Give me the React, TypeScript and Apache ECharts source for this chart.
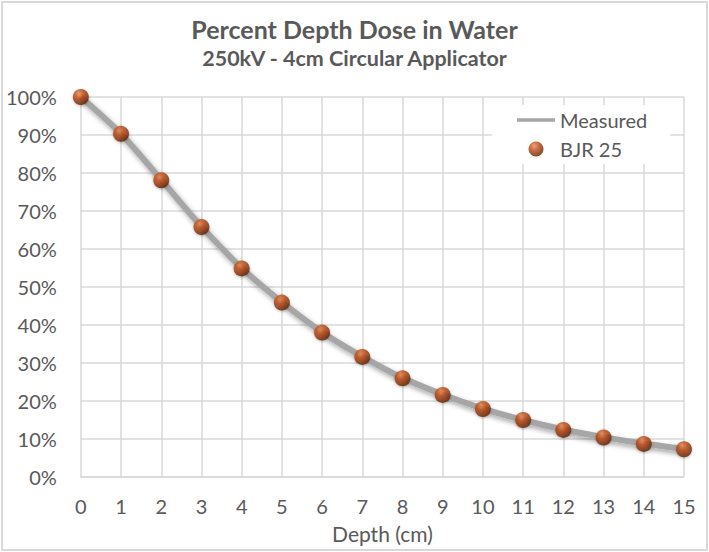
import { useEffect, useRef } from 'react';
import * as echarts from 'echarts';

const depths = [0, 1, 2, 3, 4, 5, 6, 7, 8, 9, 10, 11, 12, 13, 14, 15];
const measured = [100, 90.3, 78.2, 65.9, 55.0, 46.0, 38.1, 31.7, 26.1, 21.7, 18.0, 15.0, 12.5, 10.5, 8.8, 7.4];
const bjr25 = [100, 90.3, 78.1, 65.8, 54.9, 45.9, 38.0, 31.6, 26.0, 21.6, 17.9, 15.0, 12.4, 10.4, 8.7, 7.3];

const FONT = 'Lato, "Open Sans", sans-serif';
const TEXT = '#595959';
const GRID = '#d9d9d9';

export default function App() {
  const chartRef = useRef<HTMLDivElement>(null);

  useEffect(() => {
    document.body.style.margin = '0';
    if (!chartRef.current) return;
    const chart = echarts.init(chartRef.current, undefined, { renderer: 'svg' });

    // orange "glass ball" look of the Excel markers
    const sphere = new echarts.graphic.RadialGradient(0.38, 0.3, 0.72, [
      { offset: 0, color: '#eb8a55' },
      { offset: 0.4, color: '#bd4a12' },
      { offset: 1, color: '#5c1f03' },
    ]);

    const option: echarts.EChartsOption = {
      animation: false,
      backgroundColor: '#ffffff',
      textStyle: { fontFamily: FONT },
      title: [
        {
          text: 'Percent Depth Dose in Water',
          left: 'center',
          top: 8,
          textStyle: { color: TEXT, fontSize: 25, fontWeight: 'bold', fontFamily: FONT },
        },
        {
          text: '250kV - 4cm Circular Applicator',
          left: 'center',
          top: 39,
          textStyle: { color: TEXT, fontSize: 21.5, fontWeight: 'bold', fontFamily: FONT },
        },
      ],
      legend: {
        orient: 'vertical',
        left: 489,
        top: 102,
        padding: [5, 23, 5, 25],
        itemGap: 9,
        itemWidth: 38,
        itemHeight: 15,
        backgroundColor: '#ffffff',
        textStyle: { color: TEXT, fontSize: 20, fontFamily: FONT },
        data: [
          { name: 'Measured', icon: 'path://M0,5.5 L38,5.5 L38,9 L0,9 Z', itemStyle: { color: '#a6a6a6' } },
          { name: 'BJR 25', icon: 'circle' },
        ],
      },
      grid: { left: 76, right: 22, top: 94, bottom: 65 },
      xAxis: {
        type: 'value',
        min: 0,
        max: 15,
        interval: 1,
        name: 'Depth (cm)',
        nameLocation: 'middle',
        nameGap: 46,
        nameTextStyle: { color: TEXT, fontSize: 21, fontFamily: FONT },
        axisLine: { show: true, lineStyle: { color: GRID, width: 1.5 } },
        axisTick: { show: false },
        axisLabel: { color: TEXT, fontSize: 20, margin: 19, fontFamily: FONT },
        splitLine: { show: true, lineStyle: { color: GRID, width: 1.5 } },
      },
      yAxis: {
        type: 'value',
        min: 0,
        max: 100,
        interval: 10,
        axisLine: { show: false },
        axisTick: { show: false },
        axisLabel: { color: TEXT, fontSize: 20, margin: 24, formatter: '{value}%', fontFamily: FONT },
        splitLine: { show: true, lineStyle: { color: GRID, width: 1.5 } },
      },
      series: [
        {
          name: 'Measured',
          type: 'line',
          smooth: 0.3,
          symbol: 'none',
          data: depths.map((d, i) => [d, measured[i]]),
          lineStyle: {
            color: '#a6a6a6',
            width: 6,
            shadowColor: 'rgba(0,0,0,0.35)',
            shadowBlur: 5,
            shadowOffsetX: 2,
            shadowOffsetY: 3,
          },
          itemStyle: { color: '#a6a6a6' },
          z: 2,
        },
        {
          name: 'BJR 25',
          type: 'scatter',
          symbol: 'circle',
          symbolSize: 16,
          data: depths.map((d, i) => [d, bjr25[i]]),
          itemStyle: {
            color: sphere,
            shadowColor: 'rgba(0,0,0,0.3)',
            shadowBlur: 3,
            shadowOffsetY: 1,
          },
          z: 3,
        },
      ],
    };

    chart.setOption(option);
    return () => chart.dispose();
  }, []);

  return (
    <div
      style={{
        width: 707,
        height: 550,
        margin: 1,
        border: '2px solid #d9d9d9',
        boxSizing: 'border-box',
      }}
    >
      <div ref={chartRef} style={{ width: 703, height: 546 }} />
    </div>
  );
}
